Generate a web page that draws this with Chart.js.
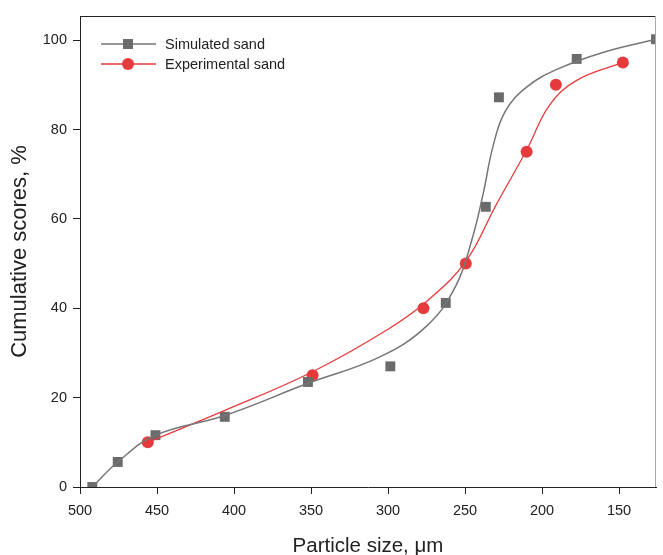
<!DOCTYPE html>
<html>
<head>
<meta charset="utf-8">
<script src="https://cdn.jsdelivr.net/npm/chart.js@4"></script>
<style>
  html, body { margin: 0; padding: 0; background: #fff; }
  #wrap { width: 663px; height: 555px; }
</style>
</head>
<body>
<div id="wrap"><canvas id="grafico" width="663" height="555"></canvas></div>
<script>
// measured points
const simX = [492, 475.5, 451, 406, 352, 298.5, 262.5, 236.5, 228, 177.5, 126];
const simY = [0, 5.6, 11.6, 15.7, 23.5, 27, 41.2, 62.7, 87.2, 95.8, 100.2];
const expX = [456, 349, 277, 249.5, 210, 191, 147.5];
const expY = [10, 25, 40, 50, 75, 90, 95];

// fitted curves
const simCurveX = [492, 475.5, 451, 406, 352, 306, 275, 256, 245, 238, 232, 224, 210, 190, 160, 126];
const simCurveY = [0, 5.6, 11.6, 16, 23.2, 29, 36, 45, 56, 66, 76, 84, 89.5, 93.5, 97.3, 100.2];
const expCurveX = [456, 405.5, 349, 300, 274, 249.5, 230, 210, 195, 177.5, 147.5];
const expCurveY = [10, 17.2, 25.8, 35.3, 41.8, 50.5, 63, 75.4, 85.5, 91, 95];

const xTicks = [500, 450, 400, 350, 300, 250, 200, 150];
const yTicks = [0, 20, 40, 60, 80, 100];

const gray = "#767676";
const grayMark = "#6b6b6b";
const red = "#e63b3c";
const fonte = "'Liberation Sans', Arial, sans-serif";

function pts(xs, ys) {
  return xs.map((x, i) => ({ x: x, y: ys[i] }));
}

const frame = {
  id: "frame",
  afterDraw(chart) {
    const { ctx, chartArea: a } = chart;
    ctx.save();
    ctx.lineWidth = 1;
    ctx.strokeStyle = "#222";
    ctx.beginPath();
    ctx.moveTo(a.left, a.top + 0.5);
    ctx.lineTo(a.right, a.top + 0.5);
    ctx.stroke();
    ctx.strokeStyle = "#aaa";
    ctx.beginPath();
    ctx.moveTo(a.right - 0.5, a.top);
    ctx.lineTo(a.right - 0.5, a.bottom);
    ctx.stroke();
    // legend
    const items = [
      { text: "Simulated sand", color: gray, mark: grayMark, style: "rect", y: 44 },
      { text: "Experimental sand", color: red, mark: red, style: "circle", y: 64 },
    ];
    ctx.font = "14.5px " + fonte;
    ctx.textBaseline = "middle";
    items.forEach((it) => {
      ctx.strokeStyle = it.color;
      ctx.lineWidth = 1.5;
      ctx.beginPath();
      ctx.moveTo(101, it.y);
      ctx.lineTo(156, it.y);
      ctx.stroke();
      ctx.fillStyle = it.mark;
      if (it.style === "rect") {
        ctx.fillRect(123, it.y - 5, 10, 10);
      } else {
        ctx.beginPath();
        ctx.arc(128, it.y, 6, 0, Math.PI * 2);
        ctx.fill();
      }
      ctx.fillStyle = "#222";
      ctx.fillText(it.text, 165, it.y + 1);
    });
    ctx.restore();
  },
};

const ctxG = document.getElementById("grafico");
new Chart(ctxG, {
  type: "scatter",
  data: {
    datasets: [
      {
        label: "Simulated sand curve",
        data: pts(simCurveX, simCurveY),
        showLine: true,
        borderColor: gray,
        borderWidth: 1.5,
        pointRadius: 0,
        tension: 0.4,
      },
      {
        label: "Experimental sand curve",
        data: pts(expCurveX, expCurveY),
        showLine: true,
        borderColor: red,
        borderWidth: 1.3,
        pointRadius: 0,
        tension: 0.4,
      },
      {
        label: "Simulated sand",
        data: pts(simX, simY),
        pointStyle: "rect",
        pointRadius: 7,
        backgroundColor: grayMark,
        borderWidth: 0,
      },
      {
        label: "Experimental sand",
        data: pts(expX, expY),
        pointStyle: "circle",
        pointRadius: 6,
        backgroundColor: red,
        borderWidth: 0,
      },
    ],
  },
  options: {
    responsive: false,
    animation: false,
    layout: { padding: { left: 0, right: 2, top: 16, bottom: 0 } },
    plugins: {
      legend: { display: false },
      tooltip: { enabled: false },
    },
    scales: {
      x: {
        type: "linear",
        reverse: true,
        min: 126,
        max: 500,
        afterBuildTicks: (s) => { s.ticks = xTicks.map((v) => ({ value: v })); },
        afterFit: (s) => { s.height = 68; },
        ticks: { color: "#222", font: { family: fonte, size: 14.5 }, padding: 8 },
        grid: { drawOnChartArea: false, drawTicks: true, tickLength: 7, color: "#222" },
        border: { color: "#222", width: 1 },
        title: {
          display: true,
          text: "Particle size, μm",
          color: "#222",
          font: { family: fonte, size: 20.5, lineHeight: 1 },
          padding: { top: 0, bottom: -2 },
        },
      },
      y: {
        min: 0,
        max: 105.4,
        afterBuildTicks: (s) => { s.ticks = yTicks.map((v) => ({ value: v })); },
        afterFit: (s) => { s.width = 80; },
        ticks: { color: "#222", font: { family: fonte, size: 14.5 }, padding: 6 },
        grid: { drawOnChartArea: false, drawTicks: true, tickLength: 7, color: "#222" },
        border: { color: "#222", width: 1 },
        title: {
          display: true,
          text: "Cumulative scores, %",
          color: "#222",
          font: { family: fonte, size: 22, lineHeight: 1 },
          padding: { top: 9, bottom: 0 },
        },
      },
    },
  },
  plugins: [frame],
});
</script>
</body>
</html>
